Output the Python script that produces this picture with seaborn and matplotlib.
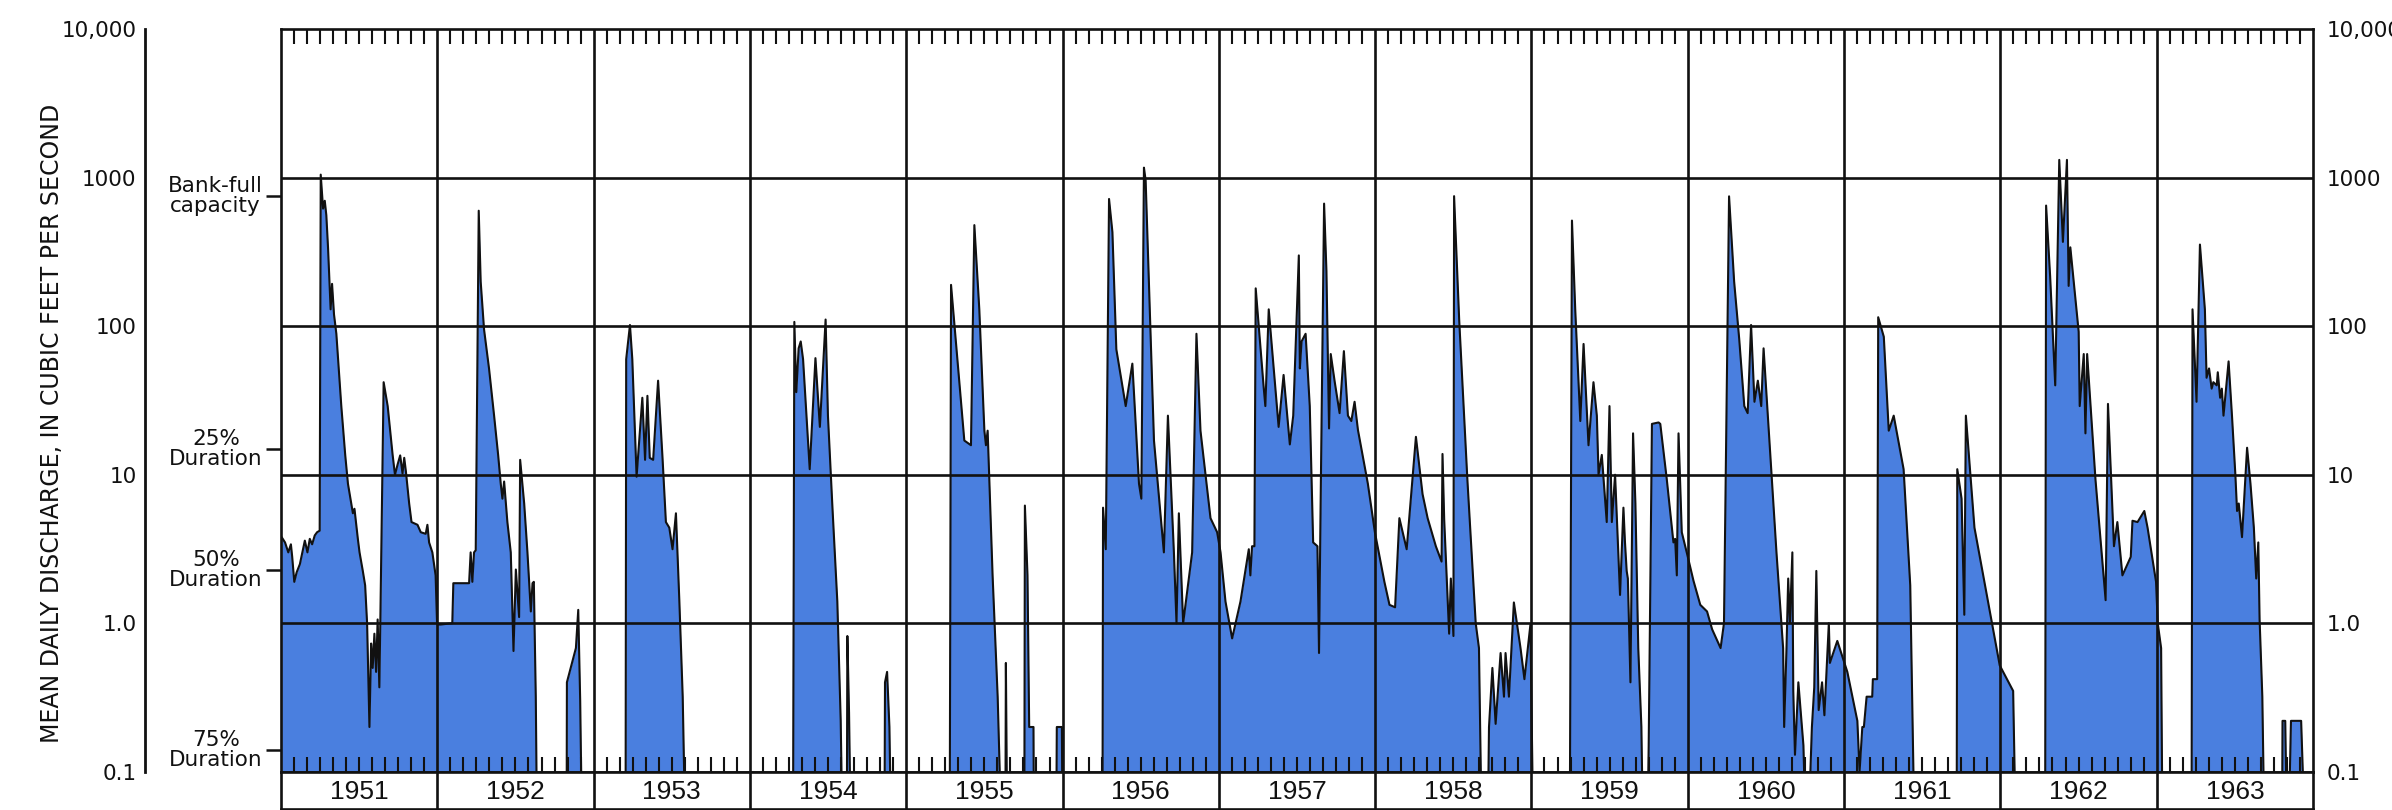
import numpy as np
import pandas as pd
import matplotlib
matplotlib.use("Agg")
import matplotlib.pyplot as plt
import seaborn as sns
from matplotlib.ticker import FixedLocator, NullLocator

# ---------------------------------------------------------------------------
# Mean daily discharge (cfs), by water year (Oct 1 - Sep 30).
# "month" = months elapsed since the start of the water year; 0 = no flow.
# ---------------------------------------------------------------------------
water_years = [1951, 1952, 1953, 1954, 1955, 1956, 1957,
               1958, 1959, 1960, 1961, 1962, 1963]

wy1951_month = [0.05, 0.31, 0.56, 0.76, 0.86, 1.02, 1.20, 1.45, 1.83, 2.03, 2.21, 2.39, 2.59,
                2.77, 2.97, 3.05, 3.23, 3.36, 3.48, 3.61, 3.81, 3.92, 4.07, 4.25, 4.63, 4.93,
                5.14, 5.39, 5.52, 5.64, 5.90, 6.03, 6.28, 6.46, 6.61, 6.79, 6.92, 7.04, 7.17,
                7.30, 7.42, 7.55, 7.63, 7.88, 8.19, 8.57, 8.75, 8.95, 9.15, 9.33, 9.46, 9.59,
                9.84, 10.02, 10.48, 10.73, 11.11, 11.24, 11.37, 11.62, 11.87, 11.98]
wy1951_cfs = [3.8, 3.5, 3.0, 3.4, 2.8, 1.9, 2.2, 2.5, 3.6, 3.0, 3.7, 3.4, 3.9,
              4.1, 4.2, 1050, 620, 700, 560, 340, 130, 193, 120, 89, 29, 13.6,
              8.7, 6.4, 5.5, 5.9, 3.7, 3.0, 2.25, 1.8, 1.0, 0.2, 0.73, 0.5, 0.85,
              0.47, 1.06, 0.37, 1.1, 42, 29, 13.6, 10, 11.7, 13.5, 10.2, 13, 10.5,
              6.4, 4.8, 4.6, 4.1, 4.0, 4.6, 3.5, 3.0, 2.1, 1.0]

wy1952_month = [0.02, 0.26, 1.15, 1.23, 2.44, 2.56, 2.69, 2.82, 2.95, 3.18, 3.33, 3.59, 3.97,
                4.36, 4.67, 4.87, 5.00, 5.13, 5.38, 5.64, 5.79, 5.85, 6.03, 6.28, 6.36, 6.67,
                6.92, 7.18, 7.31, 7.41, 7.56, 7.69, 9.92, 9.95, 10.64, 10.82, 10.97, 11.15]
wy1952_cfs = [0.98, 0.98, 1.0, 1.86, 1.86, 3.0, 1.9, 3.0, 3.1, 600, 200, 95, 52,
              25, 13.6, 8.7, 6.9, 9.0, 4.8, 3.0, 1.0, 0.65, 2.3, 1.1, 12.6, 6.4,
              3.0, 1.2, 1.86, 1.9, 0.32, 0, 0, 0.4, 0.68, 1.23, 0.3, 0]

wy1953_month = [2.45, 2.50, 2.79, 2.97, 3.30, 3.74, 3.95, 4.13, 4.31, 4.57, 4.95, 5.29, 5.55,
                5.81, 6.06, 6.32, 6.58, 6.84, 7.10]
wy1953_cfs = [0, 60, 102, 60, 9.7, 33, 12.6, 34, 13, 12.6, 43, 13, 4.8,
              4.4, 3.15, 5.5, 1.43, 0.32, 0]

wy1954_month = [3.30, 3.41, 3.56, 3.74, 3.90, 4.08, 4.59, 5.03, 5.37, 5.81, 5.99, 6.32, 6.71,
                6.97, 7.15, 7.43, 7.48, 7.61, 7.79, 10.32, 10.37, 10.53, 10.71, 10.89]
wy1954_cfs = [0, 107, 36, 71, 79, 60, 10.9, 61, 21, 111, 25, 6.4, 1.4,
              0.22, 0, 0, 0.82, 0.25, 0, 0, 0.40, 0.47, 0.2, 0]

wy1955_month = [3.33, 3.44, 4.46, 4.97, 5.23, 5.61, 6.00, 6.12, 6.25, 6.63, 7.02, 7.40, 7.60,
                7.65, 7.78, 9.06, 9.11, 9.31, 9.44, 9.77, 9.82, 11.50, 11.56, 11.95]
wy1955_cfs = [0, 190, 17, 15.8, 480, 130, 19.8, 15.8, 19.8, 2.1, 0.32, 0, 0,
              0.54, 0, 0, 6.2, 2.1, 0.2, 0.2, 0, 0, 0.2, 0.2]

wy1956_month = [0.02, 3.06, 3.11, 3.32, 3.57, 3.83, 4.13, 4.85, 5.36, 5.87, 6.05, 6.25, 6.38,
                6.76, 7.02, 7.78, 8.09, 8.55, 8.75, 8.93, 9.26, 9.95, 10.28, 10.59, 11.36, 11.87]
wy1956_cfs = [0, 0, 6.0, 3.15, 720, 430, 70, 29, 56, 8.7, 6.9, 1170, 960,
              89, 17, 3.0, 25, 3.0, 1.0, 5.5, 1.0, 3.0, 89, 19.8, 5.1, 4.1]

wy1957_month = [0.13, 0.51, 1.02, 1.66, 2.30, 2.42, 2.55, 2.73, 2.83, 3.44, 3.57, 3.83, 4.59,
                4.97, 5.45, 5.71, 6.14, 6.22, 6.35, 6.66, 6.98, 7.24, 7.57, 7.69, 7.80, 8.08,
                8.26, 8.46, 8.59, 8.90, 9.27, 9.60, 9.91, 10.17, 10.42, 10.68, 11.44, 11.98]
wy1957_cfs = [3.0, 1.4, 0.79, 1.4, 3.15, 2.1, 3.3, 3.3, 180, 39, 29, 130, 21,
              47, 16, 25, 300, 52, 79, 89, 29, 3.5, 3.3, 0.63, 5, 670,
              235, 20.5, 65, 42, 26, 68, 25, 23, 31, 20, 8.7, 4.1]

wy1958_month = [0.71, 1.10, 1.53, 1.86, 2.42, 3.13, 3.64, 4.03, 4.66, 5.10, 5.17, 5.30, 5.68,
                5.81, 6.01, 6.06, 6.45, 7.08, 7.72, 7.97, 8.23, 8.61, 8.74, 9.00, 9.25, 9.63,
                9.89, 10.01, 10.27, 10.65, 11.16, 11.46, 11.92]
wy1958_cfs = [1.9, 1.33, 1.28, 5.1, 3.15, 18, 7.4, 5.1, 3.3, 2.6, 13.8, 5.0, 0.85,
              2.0, 0.82, 752, 111, 9.3, 1.0, 0.68, 0, 0, 0.2, 0.5, 0.21, 0.63,
              0.32, 0.63, 0.32, 1.38, 0.68, 0.42, 0.98]

wy1959_month = [0.18, 2.93, 3.11, 3.36, 3.75, 4.00, 4.38, 4.76, 5.02, 5.15, 5.40, 5.78, 5.99,
                6.17, 6.42, 6.80, 7.06, 7.18, 7.31, 7.40, 7.60, 7.80, 7.98, 8.20, 8.44, 8.61,
                8.86, 9.00, 9.25, 9.76, 9.89, 10.39, 10.90, 11.03, 11.16, 11.29, 11.54, 11.92]
wy1959_cfs = [0, 0, 515, 130, 23, 76, 15.8, 42, 25, 10, 13.6, 4.8, 29,
              4.8, 10, 1.55, 6, 3.5, 2.25, 2.0, 0.40, 19, 6.4, 0.68, 0.2, 0,
              0, 0.15, 22, 22.5, 22, 9.3, 3.5, 3.7, 2.1, 19, 4.1, 3.0]

wy1960_month = [0.44, 0.96, 1.48, 1.87, 2.52, 2.78, 3.17, 3.56, 3.95, 4.34, 4.60, 4.86, 5.12,
                5.38, 5.64, 5.82, 6.29, 6.81, 7.32, 7.40, 7.58, 7.71, 7.84, 8.03, 8.10, 8.23,
                8.49, 8.88, 9.14, 9.53, 9.71, 9.87, 10.05, 10.31, 10.49, 10.83, 10.91, 11.48]
wy1960_cfs = [1.93, 1.33, 1.2, 0.91, 0.68, 1.0, 750, 200, 82, 29, 26, 102, 31,
              43, 29, 71, 15.8, 3.0, 0.68, 0.2, 0.68, 2.0, 1.0, 3.0, 0.35, 0.13,
              0.40, 0.15, 0, 0.2, 0.37, 2.25, 0.26, 0.40, 0.24, 1.0, 0.54, 0.76]

wy1961_month = [0.25, 1.02, 1.19, 1.40, 1.52, 1.73, 2.16, 2.21, 2.54, 2.62, 3.05, 3.43, 3.81,
                4.57, 5.08, 5.46, 8.64, 8.69, 9.02, 9.23, 9.35, 10.01, 11.95]
wy1961_cfs = [0.47, 0.22, 0.1, 0.2, 0.2, 0.32, 0.32, 0.42, 0.42, 115, 85, 19.8, 25,
              10.9, 1.8, 0, 0, 10.9, 6.9, 1.14, 25, 4.4, 0.52]

wy1962_month = [0.98, 1.24, 3.43, 3.51, 3.82, 4.21, 4.52, 4.80, 5.11, 5.24, 5.37, 6.01, 6.09,
                6.40, 6.53, 6.66, 7.30, 8.08, 8.26, 8.72, 8.98, 9.37, 10.01, 10.14, 10.53,
                11.05, 11.30, 11.95]
wy1962_cfs = [0.35, 0, 0, 650, 217, 40, 1320, 370, 1320, 187, 340, 92, 29,
              65, 19, 65, 9.3, 1.43, 30, 3.3, 4.8, 2.1, 2.8, 4.9, 4.8,
              5.7, 4.4, 1.9]

wy1963_month = [0.08, 0.34, 0.47, 2.67, 2.75, 3.06, 3.32, 3.70, 3.83, 4.02, 4.22, 4.35, 4.61,
                4.69, 4.87, 5.00, 5.13, 5.52, 5.78, 6.04, 6.17, 6.30, 6.55, 6.94, 7.20, 7.46,
                7.64, 7.80, 7.90, 8.11, 8.32, 9.61, 9.66, 9.87, 10.05, 10.31, 11.09, 11.48]
wy1963_cfs = [1.0, 0.68, 0, 0, 130, 31, 355, 130, 45, 52, 38, 42, 40,
              49, 33, 38, 25, 58, 25, 10, 5.7, 6.4, 3.8, 15.2, 8.7, 4.4,
              2.0, 3.5, 1.06, 0.32, 0, 0, 0.22, 0.22, 0, 0.22, 0.22, 0]

# Reference discharges marked on the left of the graph
reference_cfs = [750, 15, 2.3, 0.14]
reference_labels = ["Bank-full\ncapacity", "25%\nDuration", "50%\nDuration", "75%\nDuration"]

# Scale values and labels
scale_cfs = [0.1, 1, 10, 100, 1000, 10000]
scale_labels = ["0.1", "1.0", "10", "100", "1000", "10,000"]

y_title = "MEAN DAILY DISCHARGE, IN CUBIC FEET PER SECOND"

# ---------------------------------------------------------------------------
series = [
    (wy1951_month, wy1951_cfs), (wy1952_month, wy1952_cfs), (wy1953_month, wy1953_cfs),
    (wy1954_month, wy1954_cfs), (wy1955_month, wy1955_cfs), (wy1956_month, wy1956_cfs),
    (wy1957_month, wy1957_cfs), (wy1958_month, wy1958_cfs), (wy1959_month, wy1959_cfs),
    (wy1960_month, wy1960_cfs), (wy1961_month, wy1961_cfs), (wy1962_month, wy1962_cfs),
    (wy1963_month, wy1963_cfs),
]
rows = []
for i, (wy, (months, flows)) in enumerate(zip(water_years, series)):
    for m, q in zip(months, flows):
        rows.append((12 * i + m, q, wy))
df = pd.DataFrame(rows, columns=["month", "cfs", "water_year"])

# zero flow is drawn just below the bottom of the log axis
FLOOR = 0.02
df["cfs_plot"] = df["cfs"].clip(lower=FLOOR)

n_months = 12 * len(water_years)

sns.set_style("white")
plt.rcParams["font.family"] = ["DejaVu Sans"]
plt.rcParams["axes.axisbelow"] = False

BLUE = "#4a7fdf"
INK = "#111111"
LW = 1.9

W_PX, H_PX = 2392, 810
fig = plt.figure(figsize=(W_PX / 100, H_PX / 100), dpi=100)

left, right = 281 / W_PX, 2313 / W_PX
top_px, bot_px = 29.3, 771.7
ax_rect = [left, 1 - bot_px / H_PX, right - left, (bot_px - top_px) / H_PX]
ax = fig.add_axes(ax_rect)
ax.set_axisbelow(False)
ax.set_yscale("log")
ax.set_ylim(0.1, 10000)
ax.set_xlim(0, n_months)

ax.fill_between(df["month"], df["cfs_plot"], FLOOR, color=BLUE, lw=0, zorder=1)
sns.lineplot(data=df, x="month", y="cfs_plot", estimator=None, sort=False,
             color=INK, lw=1.5, ax=ax, zorder=3)
ax.set_xlabel("")
ax.set_ylabel("")

# grid: decades and water-year boundaries
for v in scale_cfs[1:-1]:
    ax.axhline(v, color=INK, lw=LW, zorder=2)
for k in range(1, len(water_years)):
    ax.axvline(12 * k, color=INK, lw=LW, zorder=2)

# monthly ticks, top and bottom, pointing inward
month_ticks = [m for m in range(1, n_months) if m % 12]
ax.xaxis.set_major_locator(FixedLocator(month_ticks))
ax.xaxis.set_minor_locator(NullLocator())
ax.tick_params(axis="x", which="major", direction="in", length=11, width=1.5,
               color=INK, top=True, bottom=True, labelbottom=False, labeltop=False)

# reference discharges on the left edge
ax.yaxis.set_major_locator(FixedLocator(reference_cfs))
ax.yaxis.set_minor_locator(NullLocator())
ax.set_yticklabels(reference_labels)
ax.tick_params(axis="y", which="major", direction="out", length=11, width=1.8,
               color=INK, left=True, right=False, labelsize=15.5, pad=2, labelcolor=INK)
for t in ax.get_yticklabels():
    t.set_multialignment("center")
    t.set_linespacing(1.0)
    t.set_verticalalignment("center")

for s in ax.spines.values():
    s.set_visible(True)
    s.set_color(INK)
    s.set_linewidth(LW)

# right-hand scale labels
axr = ax.twinx()
axr.set_yscale("log")
axr.set_ylim(0.1, 10000)
axr.yaxis.set_major_locator(FixedLocator(scale_cfs))
axr.yaxis.set_minor_locator(NullLocator())
axr.set_yticklabels(scale_labels)
axr.tick_params(axis="y", length=0, pad=9.5, labelsize=15.5, labelcolor=INK)
for s in axr.spines.values():
    s.set_visible(False)

# left-hand scale bar
axl = fig.add_axes([145 / W_PX, ax_rect[1], 0.0005, ax_rect[3]])
axl.set_yscale("log")
axl.set_ylim(0.1, 10000)
axl.patch.set_visible(False)
axl.yaxis.set_major_locator(FixedLocator(scale_cfs))
axl.yaxis.set_minor_locator(NullLocator())
axl.set_yticklabels(scale_labels)
axl.set_xticks([])
axl.tick_params(axis="y", direction="in", length=13, width=2.0, color=INK,
                labelsize=15.5, pad=6, labelcolor=INK)
for name, s in axl.spines.items():
    s.set_visible(name == "left")
    s.set_color(INK)
    s.set_linewidth(2.0)

# water-year label band
band_bottom = 1 - 809 / H_PX
axy = fig.add_axes([left, band_bottom, right - left, ax_rect[1] - band_bottom])
axy.set_xlim(0, n_months)
axy.set_ylim(0, 1)
axy.set_xticks([])
axy.set_yticks([])
for k in range(1, len(water_years)):
    axy.axvline(12 * k, color=INK, lw=LW)
for i, wy in enumerate(water_years):
    axy.text(12 * i + 6, 0.45, str(wy), ha="center", va="center", fontsize=19,
             family=["Liberation Sans", "DejaVu Sans"], color=INK)
for s in axy.spines.values():
    s.set_color(INK)
    s.set_linewidth(LW)

fig.text(52 / W_PX, 1 - 423 / H_PX, y_title, rotation=90, ha="center", va="center",
         fontsize=17, family=["Liberation Sans Narrow", "DejaVu Sans"], color=INK)

fig.savefig("out.png", dpi=100, facecolor="white")
